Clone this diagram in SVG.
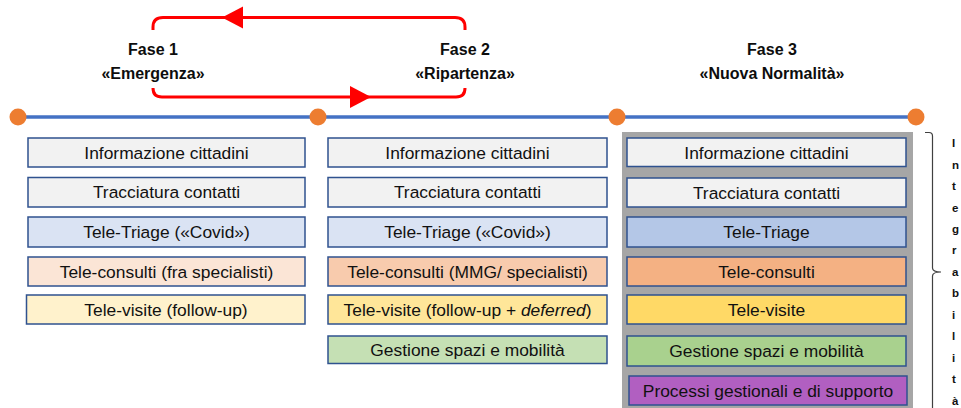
<svg xmlns="http://www.w3.org/2000/svg" width="961" height="408" viewBox="0 0 961 408">
<style>
.hd{font-family:"Liberation Sans",Arial,sans-serif;font-weight:bold;font-size:16px;fill:#0d0d0d;text-anchor:middle}
.bx{stroke:#2F528F;stroke-width:1.5}
.bt{font-family:"Liberation Sans",Arial,sans-serif;font-size:17.4px;fill:#111;text-anchor:middle}
.vt{font-family:"Liberation Sans",Arial,sans-serif;font-weight:bold;font-size:11.5px;fill:#111}
.red{fill:none;stroke:#FF0000;stroke-width:3}
</style>
<rect width="961" height="408" fill="#fff"/>
<g id="connectors">
<path class="red" d="M153,30 L153,27 Q153,17.5 163,17.5 L455,17.5 Q465,17.5 465,27 L465,30"/>
<polygon points="222,17.5 243,6.5 243,28.5" fill="#FF0000"/>
<path class="red" d="M153,88 Q153,97 162,97 L456,97 Q465,97 465,88"/>
<polygon points="371,97 350,86 350,108" fill="#FF0000"/>
</g>
<g id="timeline">
<line x1="18" y1="117" x2="916" y2="117" stroke="#4472C4" stroke-width="3.5"/>
<circle cx="18" cy="117" r="8.5" fill="#ED7D31"/>
<circle cx="318" cy="117" r="8.5" fill="#ED7D31"/>
<circle cx="617" cy="117" r="8.5" fill="#ED7D31"/>
<circle cx="916" cy="117" r="8.5" fill="#ED7D31"/>
</g>
<g id="fase1"><text class="hd" x="153" y="55">Fase 1</text><text class="hd" x="153" y="79">«Emergenza»</text></g>
<g id="fase2"><text class="hd" x="465" y="55">Fase 2</text><text class="hd" x="465" y="79">«Ripartenza»</text></g>
<g id="fase3"><text class="hd" x="772" y="55">Fase 3</text><text class="hd" x="772" y="79">«Nuova Normalità»</text></g>

<g id="c1-info"><rect class="bx" x="28" y="138" width="277" height="29" fill="#F2F2F2"/><text class="bt" x="166.5" y="158.5">Informazione cittadini</text></g>
<g id="c1-tracc"><rect class="bx" x="28" y="177.5" width="277" height="29.5" fill="#F2F2F2"/><text class="bt" x="166.5" y="198">Tracciatura contatti</text></g>
<g id="c1-triage"><rect class="bx" x="28" y="217" width="277" height="30" fill="#DAE3F3"/><text class="bt" x="166.5" y="238">Tele-Triage («Covid»)</text></g>
<g id="c1-consulti"><rect class="bx" x="28" y="257" width="277" height="29" fill="#FBE5D6"/><text class="bt" x="166.5" y="277.5">Tele-consulti (fra specialisti)</text></g>
<g id="c1-visite"><rect class="bx" x="26.5" y="295" width="278.5" height="29" fill="#FFF2CC"/><text class="bt" x="166" y="315.5">Tele-visite (follow-up)</text></g>

<g id="c2-info"><rect class="bx" x="328" y="138" width="279" height="29" fill="#F2F2F2"/><text class="bt" x="467.5" y="158.5">Informazione cittadini</text></g>
<g id="c2-tracc"><rect class="bx" x="328" y="177.5" width="279" height="29.5" fill="#F2F2F2"/><text class="bt" x="467.5" y="198">Tracciatura contatti</text></g>
<g id="c2-triage"><rect class="bx" x="328" y="217" width="279" height="30" fill="#DAE3F3"/><text class="bt" x="467.5" y="238">Tele-Triage («Covid»)</text></g>
<g id="c2-consulti"><rect class="bx" x="328" y="257" width="279" height="29" fill="#F8CBAD"/><text class="bt" x="467.5" y="277.5">Tele-consulti (MMG/ specialisti)</text></g>
<g id="c2-visite"><rect class="bx" x="328" y="295" width="279" height="29" fill="#FFE699"/><text class="bt" x="467.5" y="315.5">Tele-visite (follow-up + <tspan font-style="italic">deferred</tspan>)</text></g>
<g id="c2-gestione"><rect class="bx" x="328" y="336" width="279" height="27.5" fill="#C5E0B4"/><text class="bt" x="467.5" y="355.5">Gestione spazi e mobilità</text></g>

<g id="c3-bg"><rect x="622" y="132" width="291" height="280" fill="#A6A6A6"/></g>
<g id="c3-info"><rect class="bx" x="627" y="138" width="279" height="28.5" fill="#F2F2F2"/><text class="bt" x="766.5" y="158.5">Informazione cittadini</text></g>
<g id="c3-tracc"><rect class="bx" x="627" y="178" width="279" height="29" fill="#F2F2F2"/><text class="bt" x="766.5" y="198.5">Tracciatura contatti</text></g>
<g id="c3-triage"><rect class="bx" x="627" y="217" width="279" height="30" fill="#B4C7E7"/><text class="bt" x="766.5" y="238">Tele-Triage</text></g>
<g id="c3-consulti"><rect class="bx" x="627" y="257" width="279" height="29" fill="#F4B183"/><text class="bt" x="766.5" y="277.5">Tele-consulti</text></g>
<g id="c3-visite"><rect class="bx" x="627" y="295" width="279" height="29" fill="#FFD966"/><text class="bt" x="766.5" y="315.5">Tele-visite</text></g>
<g id="c3-gestione"><rect class="bx" x="627" y="336" width="279" height="30" fill="#A9D18E"/><text class="bt" x="766.5" y="357">Gestione spazi e mobilità</text></g>
<g id="c3-processi"><rect class="bx" x="629" y="376" width="278" height="29" fill="#B15FC1"/><text class="bt" x="768" y="396.5">Processi gestionali e di supporto</text></g>

<g id="brace">
<path d="M925,132.5 L929,132.5 Q932.5,132.5 932.5,136 L932.5,268 Q932.5,272 941,272 Q932.5,272 932.5,276 L932.5,412" fill="none" stroke="#404040" stroke-width="1.2"/>
</g>
<g id="integrabilita">
<text class="vt" x="952" y="147">I</text>
<text class="vt" x="952" y="168.5">n</text>
<text class="vt" x="952" y="190">t</text>
<text class="vt" x="952" y="211.5">e</text>
<text class="vt" x="952" y="232.5">g</text>
<text class="vt" x="952" y="254">r</text>
<text class="vt" x="952" y="275.5">a</text>
<text class="vt" x="952" y="297">b</text>
<text class="vt" x="952" y="318.5">i</text>
<text class="vt" x="952" y="340">l</text>
<text class="vt" x="952" y="361.5">i</text>
<text class="vt" x="952" y="383">t</text>
<text class="vt" x="952" y="404.5">à</text>
</g>
</svg>
